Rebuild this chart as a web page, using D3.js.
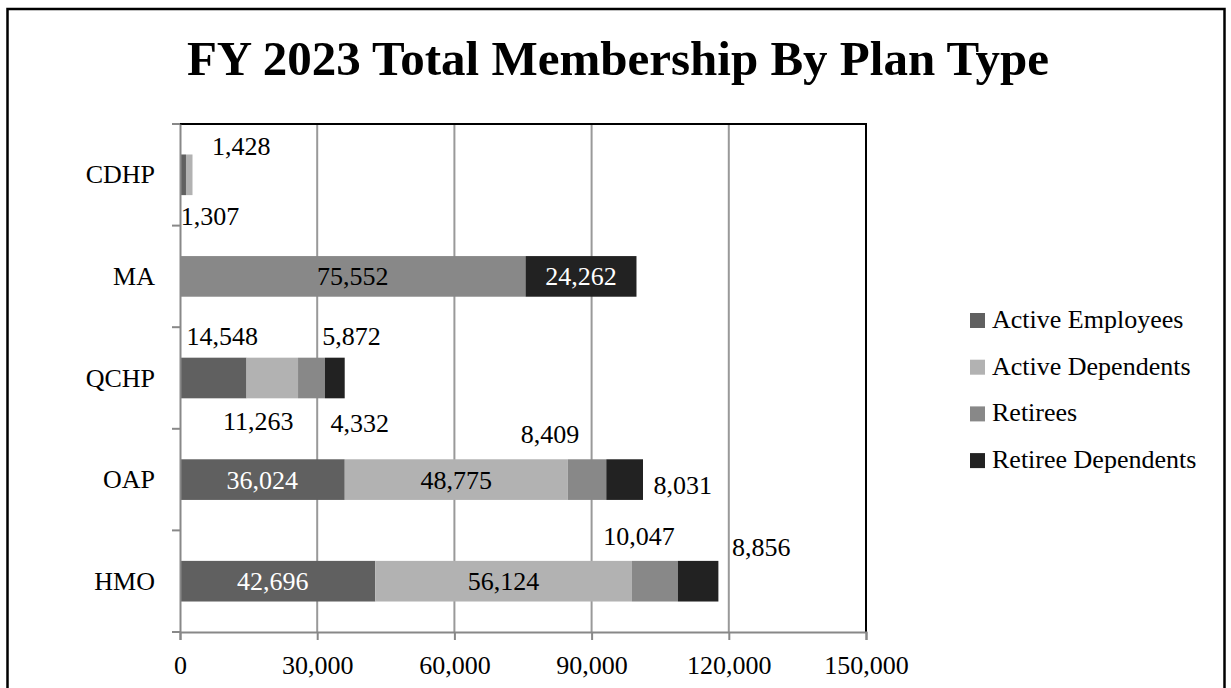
<!DOCTYPE html>
<html>
<head>
<meta charset="utf-8">
<script src="https://cdn.jsdelivr.net/npm/d3@7"></script>
<style>
  body { margin: 0; background: #fff; }
  text { font-family: "Liberation Serif", "Times New Roman", serif; }
</style>
</head>
<body>
<div id="chart"></div>
<script>
// data
var plans = ["CDHP", "MA", "QCHP", "OAP", "HMO"];
var seriesNames = ["Active Employees", "Active Dependents", "Retirees", "Retiree Dependents"];
var activeEmployees   = [1307, 0, 14548, 36024, 42696];
var activeDependents  = [1428, 0, 11263, 48775, 56124];
var retirees          = [0, 75552, 5872, 8409, 10047];
var retireeDependents = [0, 24262, 4332, 8031, 8856];
var xTicks = [0, 30000, 60000, 90000, 120000, 150000];
var chartTitle = "FY 2023 Total Membership By Plan Type";

var colors = ["#606060", "#b2b2b2", "#888888", "#222222"];

// label nudges (the original labels were dragged around by hand)
// [dx from segment centre, baseline dy from bar centre]
var labelNudge = {
  "CDHP|Active Employees": [27, 50],
  "CDHP|Active Dependents": [52, -20],
  "QCHP|Active Employees": [9, -33],
  "QCHP|Active Dependents": [-14, 52],
  "QCHP|Retirees": [40, -33],
  "QCHP|Retiree Dependents": [25, 54],
  "OAP|Retirees": [-37, -37],
  "OAP|Retiree Dependents": [58, 14],
  "HMO|Active Employees": [-5, 9],
  "HMO|Retirees": [-16, -36],
  "HMO|Retiree Dependents": [63, -25]
};

var W = 1231, H = 688;
var margin = {top: 124, left: 180, right: 365, bottom: 56};
var width = W - margin.left - margin.right,
    height = H - margin.top - margin.bottom;

var svg = d3.select("#chart").append("svg")
  .attr("width", W).attr("height", H);

// outer frame
svg.append("rect")
  .attr("x", 7.5).attr("y", 9)
  .attr("width", 1217).attr("height", 700)
  .attr("fill", "none").attr("stroke", "#000").attr("stroke-width", 2.5);

svg.append("text")
  .attr("x", 618).attr("y", 75)
  .attr("text-anchor", "middle")
  .style("font-size", "49px").style("font-weight", "700")
  .text(chartTitle);

var g = svg.append("g")
  .attr("transform", "translate(" + margin.left + "," + margin.top + ")");

var rows = plans.map(function(p, i) {
  return {
    plan: p,
    "Active Employees": activeEmployees[i],
    "Active Dependents": activeDependents[i],
    "Retirees": retirees[i],
    "Retiree Dependents": retireeDependents[i]
  };
});

var stack = d3.stack().keys(seriesNames)(rows);

var x = d3.scaleLinear().domain([0, 150000]).range([0, width]);
var y = d3.scaleBand().domain(plans).range([0, height])
  .paddingInner(0.6).paddingOuter(0.3);
var yBand = d3.scaleBand().domain(plans).range([0, height]);
var color = d3.scaleOrdinal().domain(seriesNames).range(colors);

// grid lines
g.selectAll(".grid").data(xTicks.slice(1, -1)).enter()
  .append("line")
  .attr("x1", function(d) { return x(d); }).attr("x2", function(d) { return x(d); })
  .attr("y1", 0).attr("y2", height)
  .attr("stroke", "#999").attr("stroke-width", 2);

// plot frame top / right
g.append("path")
  .attr("d", "M0,0H" + x(150000) + "V" + height)
  .attr("fill", "none").attr("stroke", "#000").attr("stroke-width", 2);

// bars
var layer = g.selectAll(".layer").data(stack).enter()
  .append("g").attr("fill", function(d) { return color(d.key); });

layer.selectAll("rect").data(function(d) { return d; }).enter()
  .append("rect")
  .attr("x", function(d) { return x(d[0]); })
  .attr("width", function(d) { return x(d[1]) - x(d[0]); })
  .attr("y", function(d) { return y(d.data.plan); })
  .attr("height", y.bandwidth());

// axes
var xAxis = g.append("g")
  .attr("transform", "translate(0," + height + ")")
  .call(d3.axisBottom(x).tickValues(xTicks).tickSize(8).tickPadding(16)
    .tickFormat(d3.format(",")));
var yAxis = g.append("g")
  .call(d3.axisLeft(yBand).tickSize(0).tickPadding(25));

// left axis ticks between categories
g.selectAll(".ytick").data(d3.range(plans.length + 1)).enter()
  .append("line")
  .attr("x1", -8).attr("x2", 0)
  .attr("y1", function(i) { return i * yBand.step(); })
  .attr("y2", function(i) { return i * yBand.step(); })
  .attr("stroke", "#888").attr("stroke-width", 2);

[xAxis, yAxis].forEach(function(a) {
  a.select(".domain").attr("stroke", "#888").attr("stroke-width", 2);
  a.selectAll(".tick line").attr("stroke", "#888").attr("stroke-width", 2);
  a.selectAll(".tick text")
    .attr("fill", "#000")
    .style("font-size", "26px")
    .style("font-family", '"Liberation Serif", "Times New Roman", serif');
});
xAxis.selectAll(".tick text").attr("dy", "0.71em");
yAxis.selectAll(".tick text").attr("dy", "0.33em");

// data labels
var fmt = d3.format(",");
layer.each(function(s) {
  var key = s.key;
  d3.select(this).selectAll(".lbl")
    .data(s.filter(function(d) { return d[1] - d[0] > 0; }))
    .enter().append("text")
    .attr("text-anchor", "middle")
    .style("font-size", "26px")
    .attr("fill", function(d) {
      var n = labelNudge[d.data.plan + "|" + key];
      var inside = !n || n[1] === 9;
      return inside && (key === "Active Employees" || key === "Retiree Dependents") ? "#fff" : "#000";
    })
    .attr("x", function(d) {
      var n = labelNudge[d.data.plan + "|" + key] || [0, 9];
      return (x(d[0]) + x(d[1])) / 2 + n[0];
    })
    .attr("y", function(d) {
      var n = labelNudge[d.data.plan + "|" + key] || [0, 9];
      return y(d.data.plan) + y.bandwidth() / 2 + n[1];
    })
    .text(function(d) { return fmt(d[1] - d[0]); });
});

// legend
var legend = svg.append("g").attr("transform", "translate(970,313)");
var item = legend.selectAll(".item").data(seriesNames).enter()
  .append("g").attr("transform", function(d, i) { return "translate(0," + i * 46.7 + ")"; });
item.append("rect").attr("width", 15).attr("height", 15)
  .attr("fill", function(d) { return color(d); });
item.append("text").attr("x", 22).attr("y", 15)
  .style("font-size", "26px")
  .text(function(d) { return d; });
</script>
</body>
</html>
